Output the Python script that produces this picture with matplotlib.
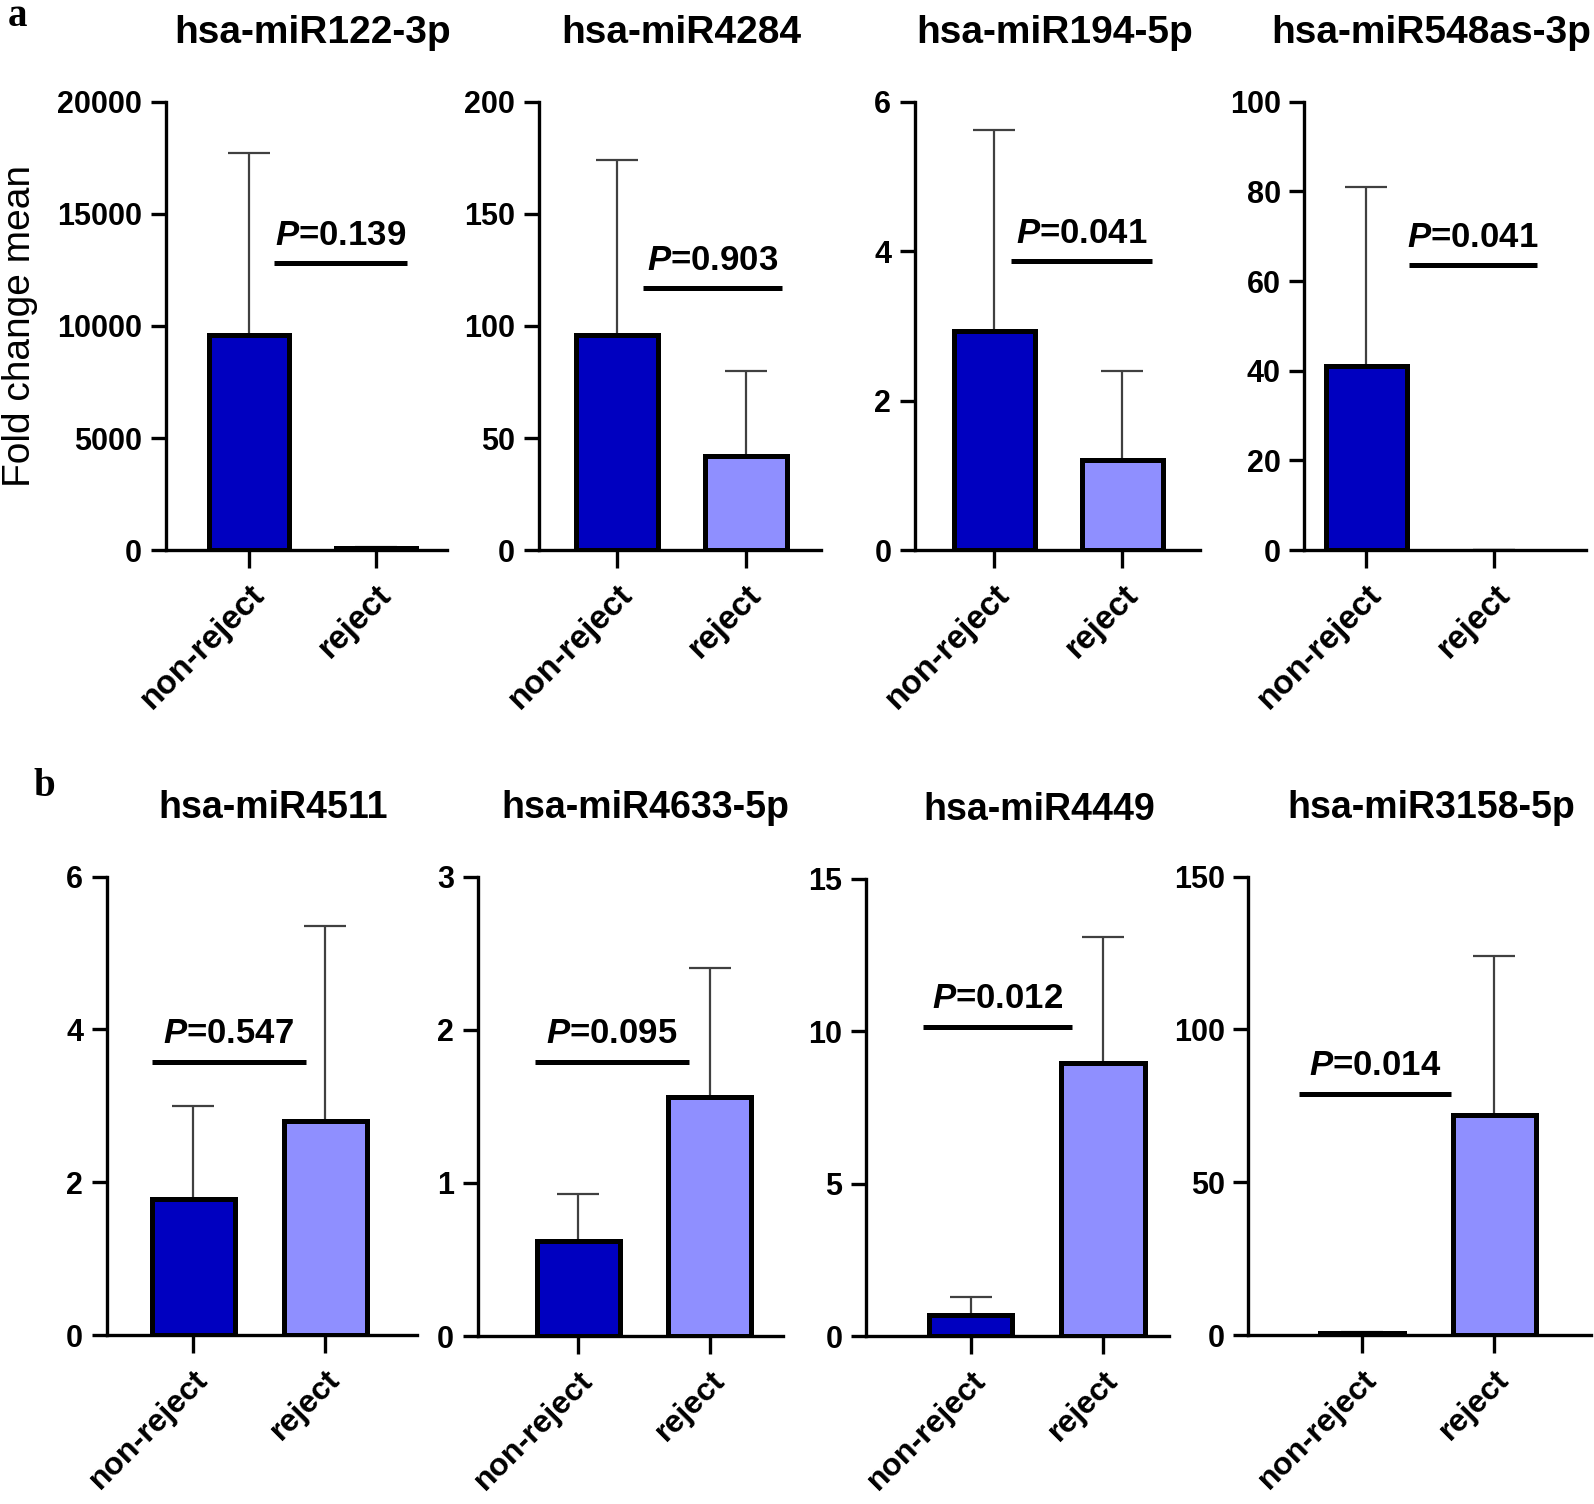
import matplotlib
matplotlib.use("Agg")
from matplotlib import pyplot as plt

plt.rcParams['font.family'] = ['Liberation Sans', 'DejaVu Sans']
plt.rcParams['font.weight'] = 'bold'
plt.rcParams['mathtext.fontset'] = 'custom'
plt.rcParams['mathtext.it'] = 'Liberation Sans:bold:italic'
plt.rcParams['mathtext.rm'] = 'Liberation Sans:bold'

# data
groups = ["non-reject", "reject"]
titles = ["hsa-miR122-3p", "hsa-miR4284", "hsa-miR194-5p", "hsa-miR548as-3p",
          "hsa-miR4511", "hsa-miR4633-5p", "hsa-miR4449", "hsa-miR3158-5p"]
means = [[9600, 100], [96, 42], [2.93, 1.2], [41, 0],
         [1.78, 2.8], [0.62, 1.56], [0.7, 8.95], [0.8, 72]]
upper = [[17700, 150], [174, 80], [5.62, 2.4], [81, 0],
         [3.0, 5.35], [0.93, 2.4], [1.3, 13.1], [1.0, 124]]
ymax = [20000, 200, 6, 100, 6, 3, 15, 150]
ystep = [5000, 50, 2, 20, 2, 1, 5, 50]
pvals = ["0.139", "0.903", "0.041", "0.041", "0.547", "0.095", "0.012", "0.014"]
p_y = [12800, 117, 3.87, 63.6, 3.58, 1.79, 10.15, 79]
p_x = [(0.2, 1.24), (0.2, 1.28), (0.13, 1.23), (0.33, 1.33),
       (-0.31, 0.85), (-0.33, 0.84), (-0.36, 0.77), (-0.48, 0.67)]

dark = "#0000C0"
light = "#8F8FFF"

W, H = 1568.0, 1479.0
# axes boxes in pixels of the reference (left, right, top, bottom)
boxes = [(163, 440, 100, 541), (530, 808, 100, 541), (900, 1180, 100, 541), (1283, 1560, 100, 541),
         (105, 410, 862, 1313), (470, 770, 862, 1314), (852, 1150, 864, 1314), (1228, 1565, 862, 1313)]
xlims = [(-0.656, 1.56), (-0.606, 1.583), (-0.619, 1.603), (-0.484, 1.714),
         (-0.654, 1.692), (-0.767, 1.558), (-0.79, 1.5), (-0.86, 1.73)]
title_shift = [6, 1, -3, -14, 11, 15, 21, 11]  # px, title centre vs axes centre

fig = plt.figure(figsize=(15.94, 15.04), dpi=100)

for i in range(8):
    l, r, t, b = boxes[i]
    ax = fig.add_axes([l / W, 1 - b / H, (r - l) / W, (b - t) / H])
    xs = [0, 1]
    err = [[0, 0], [upper[i][k] - means[i][k] for k in range(2)]]
    ax.errorbar(xs, means[i], yerr=err, fmt="none", ecolor="#404040",
                elinewidth=1.6, capsize=15, capthick=1.6, zorder=1)
    edges = ["black" if v > 0 else "none" for v in means[i]]
    ax.bar(xs, means[i], width=0.63, color=[dark, light], edgecolor=edges,
           linewidth=3.6, zorder=2)
    ax.set_xlim(*xlims[i])
    ax.set_ylim(0, ymax[i])
    ax.set_yticks([ystep[i] * k for k in range(int(round(ymax[i] / ystep[i])) + 1)])
    ax.set_xticks(xs)
    ax.set_xticklabels(groups, rotation=45, ha="right", rotation_mode="anchor",
                       fontsize=24 if i < 4 else 23, fontweight="bold")
    ax.tick_params(axis="y", labelsize=22, length=11, width=2.4, pad=6)
    ax.tick_params(axis="x", length=13, width=2.4, pad=8)
    for s in ["top", "right"]:
        ax.spines[s].set_visible(False)
    for s in ["left", "bottom"]:
        ax.spines[s].set_linewidth(2.4)
    ax.set_title(titles[i], fontsize=28 if i < 4 else 27, fontweight="bold", pad=42,
                 x=0.5 + title_shift[i] / (r - l))

    # significance bar
    x1, x2 = p_x[i]
    ax.plot([x1, x2], [p_y[i], p_y[i]], color="black", lw=3.6, solid_capstyle="butt",
            clip_on=False, zorder=3)
    ax.text((x1 + x2) / 2, p_y[i] + ymax[i] * 0.025, r"$\mathit{P}$=" + pvals[i],
            ha="center", va="bottom", fontsize=25, fontweight="bold")

    if i == 0:
        ax.set_ylabel("Fold change mean", fontsize=28, fontweight="normal", labelpad=14)

fig.text(8 / W, 1 - 16 / H, "a", fontsize=28, fontweight="bold",
         family="Liberation Serif", va="center", ha="left")
fig.text(33 / W, 1 - 773 / H, "b", fontsize=28, fontweight="bold",
         family="Liberation Serif", va="center", ha="left")

fig.savefig("out.png", dpi=100)
